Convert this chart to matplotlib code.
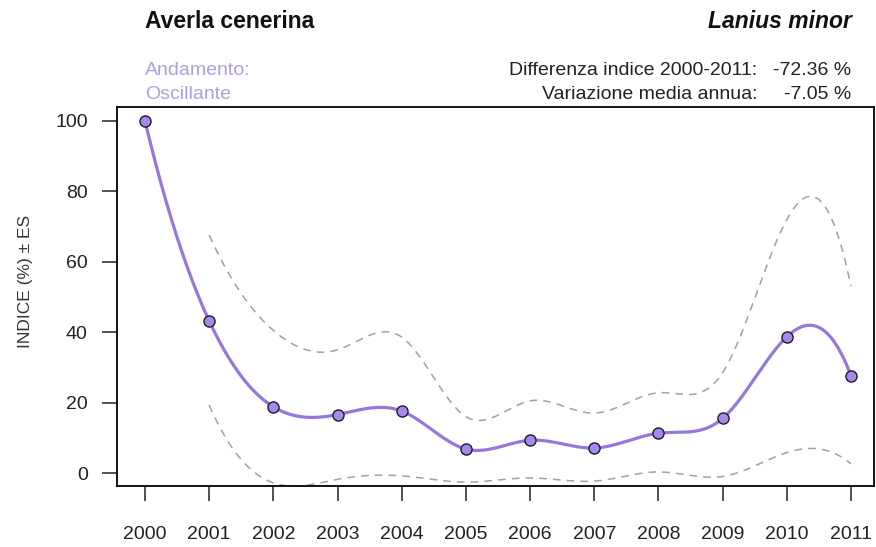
import numpy as np
import matplotlib
matplotlib.use("Agg")
import matplotlib.pyplot as plt

plt.rcParams['font.family'] = ['Liberation Sans', 'DejaVu Sans']

years = [2000, 2001, 2002, 2003, 2004, 2005, 2006, 2007, 2008, 2009, 2010, 2011]
index = [100.0, 43.2, 18.8, 16.6, 17.6, 6.8, 9.3, 7.1, 11.3, 15.5, 38.7, 27.64]

es_years = [2001, 2002, 2003, 2004, 2005, 2006, 2007, 2008, 2009, 2010, 2011]
upper = [67.6, 40.5, 35.0, 38.6, 16.0, 20.5, 17.0, 22.8, 28.5, 72.0, 53.0]
lower = [19.3, -2.8, -1.8, -0.8, -2.6, -1.4, -2.3, 0.3, -1.0, 5.8, 2.6]

title_common = "Averla cenerina"
title_latin = "Lanius minor"
trend_label = "Andamento:"
trend_value = "Oscillante"
stat_labels = ["Differenza indice 2000-2011:", "Variazione media annua:"]
stat_values = ["-72.36 %", "-7.05 %"]
y_label = "INDICE (%) \u00b1 ES"
y_ticks = [0, 20, 40, 60, 80, 100]


def fmm_spline(x, y, n=400):
    """Cubic interpolating spline with Forsythe-Malcolm-Moler end conditions."""
    x = np.asarray(x, float)
    y = np.asarray(y, float)
    N = len(x)
    nm1 = N - 1
    b = np.zeros(N)
    c = np.zeros(N)
    d = np.zeros(N)
    d[0] = x[1] - x[0]
    c[1] = (y[1] - y[0]) / d[0]
    for i in range(1, nm1):
        d[i] = x[i + 1] - x[i]
        b[i] = 2.0 * (d[i - 1] + d[i])
        c[i + 1] = (y[i + 1] - y[i]) / d[i]
        c[i] = c[i + 1] - c[i]
    b[0] = -d[0]
    b[nm1] = -d[N - 2]
    c[0] = c[nm1] = 0.0
    if N > 3:
        c[0] = c[2] / (x[3] - x[1]) - c[1] / (x[2] - x[0])
        c[nm1] = c[N - 2] / (x[nm1] - x[N - 3]) - c[N - 3] / (x[N - 2] - x[N - 4])
        c[0] = c[0] * d[0] * d[0] / (x[3] - x[0])
        c[nm1] = -c[nm1] * d[N - 2] * d[N - 2] / (x[nm1] - x[N - 4])
    for i in range(1, N):
        t = d[i - 1] / b[i - 1]
        b[i] = b[i] - t * d[i - 1]
        c[i] = c[i] - t * c[i - 1]
    c[nm1] = c[nm1] / b[nm1]
    for i in range(N - 2, -1, -1):
        c[i] = (c[i] - d[i] * c[i + 1]) / b[i]
    b[nm1] = (y[nm1] - y[N - 2]) / d[N - 2] + d[N - 2] * (c[N - 2] + 2.0 * c[nm1])
    for i in range(nm1):
        b[i] = (y[i + 1] - y[i]) / d[i] - d[i] * (c[i + 1] + 2.0 * c[i])
        d[i] = (c[i + 1] - c[i]) / d[i]
        c[i] = 3.0 * c[i]
    c[nm1] = 3.0 * c[nm1]
    d[nm1] = d[N - 2]
    xs = np.linspace(x[0], x[-1], n)
    idx = np.clip(np.searchsorted(x, xs, side='right') - 1, 0, N - 1)
    dx = xs - x[idx]
    ys = y[idx] + dx * (b[idx] + dx * (c[idx] + dx * d[idx]))
    return xs, ys


fig = plt.figure(figsize=(8.76, 5.47), dpi=100)
ax = fig.add_axes([117 / 876, 1 - 486 / 547, (874 - 117) / 876, (486 - 107) / 547])

line_col = '#9677dc'
dash_col = '#a39abd'

xs, ys = fmm_spline(es_years, upper)
ax.plot(xs, ys, ls=(0, (5, 4)), color=dash_col, lw=1.1)
xs, ys = fmm_spline(es_years, lower)
ax.plot(xs, ys, ls=(0, (5, 4)), color=dash_col, lw=1.1)
xs, ys = fmm_spline(years, index)
ax.plot(xs, ys, color=line_col, lw=2.3, solid_capstyle='round')
ax.plot(years, index, 'o', ms=8, mfc='#a58be6', mec='#1e1830', mew=1.0, zorder=5)

ax.set_xlim(2000 - 28 / 64.18, 2011 + 23 / 64.18)
ax.set_ylim(-(486 - 473) / 3.52, 100 + (121 - 107) / 3.52)
ax.set_xticks(years)
ax.set_xticklabels([str(y) for y in years])
ax.set_yticks(y_ticks)
for s in ax.spines.values():
    s.set_linewidth(1.3)
ax.tick_params(axis='both', direction='out', length=11, width=1.1,
               labelsize=14, colors='#222222')
ax.tick_params(axis='x', pad=18)
ax.tick_params(axis='y', pad=10)
ax.set_ylabel(y_label, fontsize=12.5, color='#333333')
ax.yaxis.set_label_coords(-(117 - 33) / 757, 0.54)

fig.text(145 / 876, 1 - 28 / 547, title_common, fontsize=16.5, fontweight='bold',
         ha='left', va='baseline', color='#111111')
fig.text(852 / 876, 1 - 28 / 547, title_latin, fontsize=16.5, fontweight='bold',
         style='italic', ha='right', va='baseline', color='#111111')
fig.text(145 / 876, 1 - 75 / 547, trend_label, fontsize=14, color='#b09ee0',
         ha='left', va='baseline')
fig.text(145 / 876, 1 - 99 / 547, trend_value, fontsize=14, color='#b09ee0',
         ha='left', va='baseline')
for i, (lab, val) in enumerate(zip(stat_labels, stat_values)):
    yy = 1 - (75 + 24 * i) / 547
    fig.text(757 / 876, yy, lab, fontsize=14, color='#222222', ha='right', va='baseline')
    fig.text(851 / 876, yy, val, fontsize=14, color='#222222', ha='right', va='baseline')

fig.savefig('out.png', dpi=100)
